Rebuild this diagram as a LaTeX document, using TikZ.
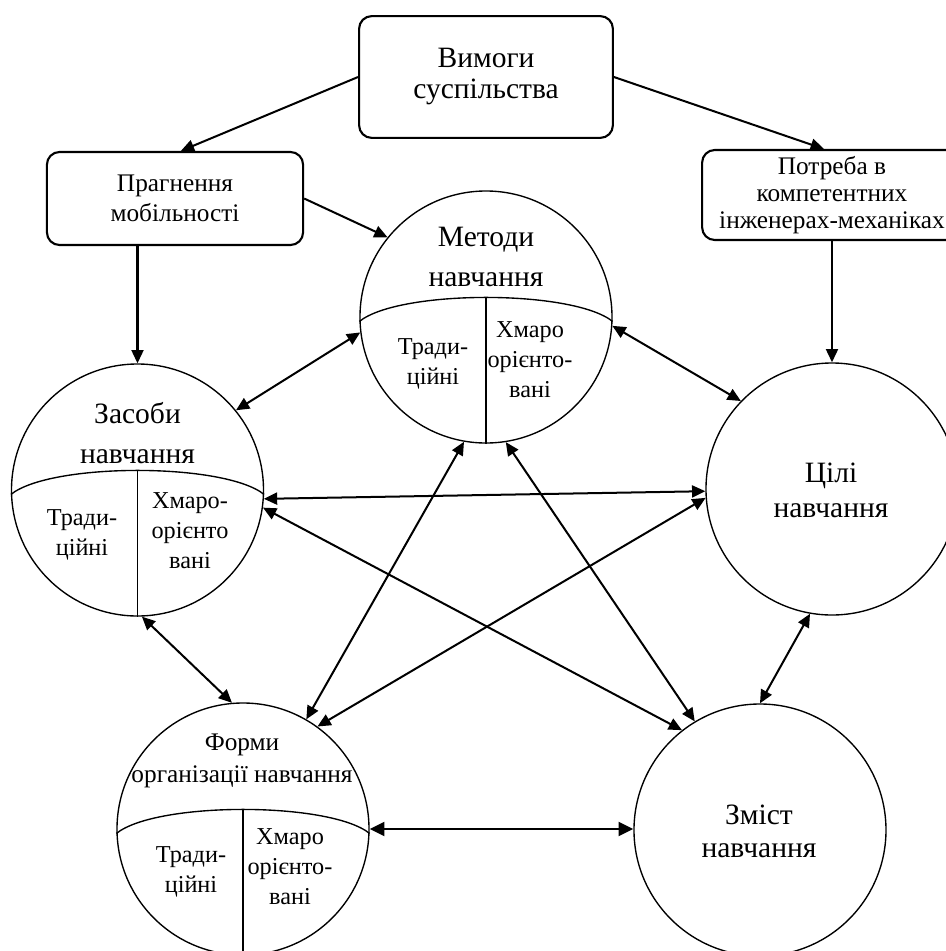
\documentclass[tikz,border=0pt]{standalone}
\usepackage{fontspec}
\setmainfont{Liberation Serif}
\usetikzlibrary{arrows.meta,positioning,calc}
\tikzset{
  needbox/.style={draw, rounded corners=6pt, line width=1pt, align=center, inner sep=2pt},
  eduround/.style={circle, draw, line width=0.65pt, minimum size=4.2cm, inner sep=0pt},
  edutitle/.style={align=center, inner sep=0pt, font=\fontsize{14}{19}\selectfont},
  edupart/.style={align=center, inner sep=0pt, font=\fontsize{11.5}{14.2}\selectfont},
  eduarrow/.style={-{Triangle[length=6.3pt,width=5.7pt]}, line width=0.95pt},
  edulink/.style={{Triangle[length=6.3pt,width=5.7pt]}-{Triangle[length=6.3pt,width=5.7pt]}, line width=0.95pt}
}
\newcommand{\splitround}[1]{%
  \draw[line width=0.65pt] (#1.182) .. controls +(40,-32) and +(-40,-32) .. (#1.358);
  \draw[line width=0.65pt] (#1.south) -- ([yshift=0.315cm]#1.center);}

\begin{document}
\begin{tikzpicture}[x=1cm/60, y=-1cm/60]
  \useasboundingbox (0,0) rectangle (946,951);

  \node[needbox, minimum width=4.23cm, minimum height=2.03cm, font=\fontsize{14}{14.7}\selectfont] (vymohy) at (486,77) {Вимоги\\суспільства};
  \node[needbox, minimum width=4.27cm, minimum height=1.55cm, font=\fontsize{12}{14.2}\selectfont] (pragnennya) at (175,198.5) {Прагнення\\мобільності};
  \node[needbox, minimum width=4.33cm, minimum height=1.5cm, font=\fontsize{12}{12.8}\selectfont] (potreba) at (832,195) {Потреба в\\компетентних\\інженерах-механіках};

  \node[eduround] (metody) at (486,317) {};
  \node[eduround] (zasoby) at (137.5,490) {};
  \node[eduround] (tsili) at (832,489) {};
  \node[eduround] (formy) at (243,829) {};
  \node[eduround] (zmist) at (760,830) {};
  \splitround{metody}
  \splitround{zasoby}
  \splitround{formy}

  \node[edutitle] (metody-t) at (486,257) {Методи\\навчання};
  \node[edupart] (metody-a) at (433,364) {Тради-\\ційні};
  \node[edupart] (metody-b) at (530,360) {Хмаро\\орієнто-\\вані};
  \node[edutitle] (zasoby-t) at (137.5,433) {Засоби\\навчання};
  \node[edupart] (zasoby-a) at (82,535) {Тради-\\ційні};
  \node[edupart] (zasoby-b) at (190,531) {Хмаро-\\орієнто\\вані};
  \node[edutitle, font=\fontsize{14}{16.6}\selectfont] (tsili-t) at (831,490) {Цілі\\навчання};
  \node[edutitle, font=\fontsize{12}{15}\selectfont] (formy-t) at (242,761) {Форми\\організації навчання};
  \node[edupart] (formy-a) at (191,872) {Тради-\\ційні};
  \node[edupart] (formy-b) at (290,867) {Хмаро\\орієнто-\\вані};
  \node[edutitle, font=\fontsize{14}{15.6}\selectfont] (zmist-t) at (759,831) {Зміст\\навчання};

  \draw[eduarrow] (vymohy.west) -- (pragnennya.83);
  \draw[eduarrow] (vymohy.east) -- (potreba.100);
  \draw[eduarrow] (pragnennya.east) -- (metody.141);
  \draw[eduarrow] (pragnennya.south -| zasoby.north) -- (zasoby.north);
  \draw[eduarrow] (potreba.south) -- (tsili.north);
  \draw[edulink] (zasoby.39) -- (metody.187);
  \draw[edulink] (metody.356) -- (tsili.136);
  \draw[edulink] (zasoby.356) -- (tsili.181);
  \draw[edulink] (zasoby.352) -- (zmist.128);
  \draw[edulink] (zasoby.272) -- (formy.95);
  \draw[edulink] (metody.260) -- (formy.60);
  \draw[edulink] (metody.279) -- (zmist.121);
  \draw[edulink] (tsili.184) -- (formy.54);
  \draw[edulink] (tsili.260) -- (zmist.north);
  \draw[{Triangle[length=7pt,width=6.6pt]}-{Triangle[length=7pt,width=6.6pt]}, line width=1.2pt] (formy.east) -- (zmist.west |- formy.east);
\end{tikzpicture}
\end{document}
